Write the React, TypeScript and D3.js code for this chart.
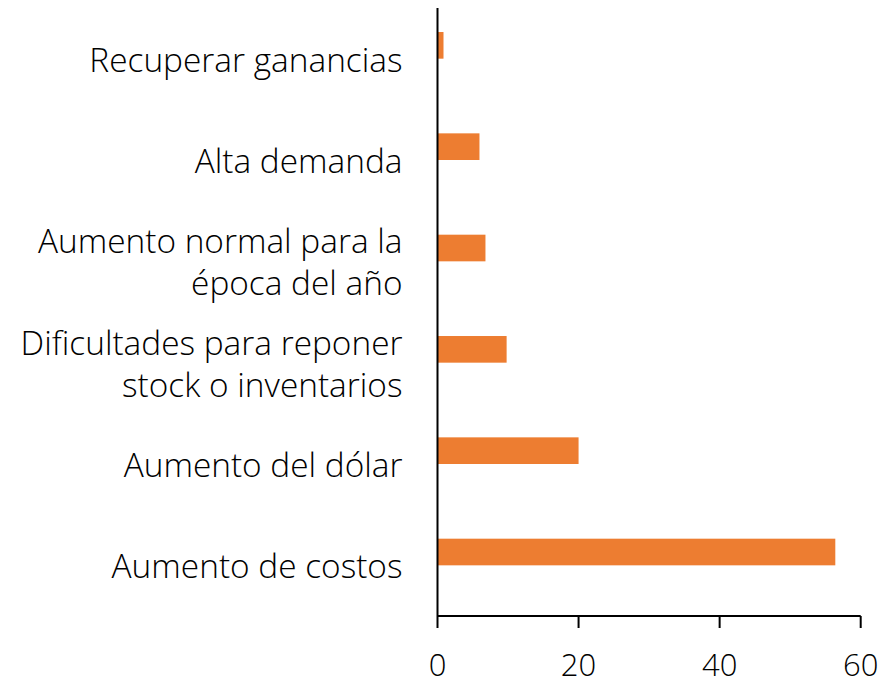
import React from "react";
import * as d3 from "d3";

const categories: string[][] = [
  ["Recuperar ganancias"],
  ["Alta demanda"],
  ["Aumento normal para la", "época del año"],
  ["Dificultades para reponer", "stock o inventarios"],
  ["Aumento del dólar"],
  ["Aumento de costos"],
];
const values = [0.85, 5.95, 6.8, 9.8, 20.0, 56.4];
const xTicks = [0, 20, 40, 60];

export default function App() {
  const W = 892, H = 680;
  const left = 437.5, right = 860.7, top = 8, bottom = 616;
  const x = d3.scaleLinear().domain([0, 60]).range([left, right]);
  const y = d3.scaleBand<number>().domain(d3.range(categories.length)).range([top, bottom]).padding(0);
  const barH = y.bandwidth() * 0.263;
  const font = "'Open Sans', sans-serif";
  const fs = 33.4;
  const lineH = 42;
  return (
    <svg width={W} height={H} style={{ position: "absolute", left: 0, top: 0 }}>
      <rect width={W} height={H} fill="#fff" />
      {values.map((v, i) => (
        <rect key={i} x={x(0)} y={y(i)! + y.bandwidth() / 2 - barH} width={x(v) - x(0)} height={barH} fill="#ED7D31" />
      ))}
      {categories.map((lines, i) => {
        const cy = y(i)! + y.bandwidth() / 2;
        const y0 = cy - ((lines.length - 1) * lineH) / 2;
        return (
          <text key={i} textAnchor="end" fontFamily={font} fontWeight={300} fontSize={fs} fill="#000" dominantBaseline="central">
            {lines.map((l, j) => (
              <tspan key={j} x={left - 35} y={y0 + j * lineH}>{l}</tspan>
            ))}
          </text>
        );
      })}
      <line x1={left} x2={left} y1={top} y2={bottom} stroke="#000" strokeWidth={2} />
      <line x1={left} x2={right} y1={bottom} y2={bottom} stroke="#000" strokeWidth={2} />
      {xTicks.map((t) => (
        <g key={t}>
          <line x1={x(t)} x2={x(t)} y1={bottom} y2={bottom + 12} stroke="#000" strokeWidth={2} />
          <text x={x(t)} y={664} textAnchor="middle" dominantBaseline="central" fontFamily={font} fontWeight={300} fontSize={31} fill="#000">{t}</text>
        </g>
      ))}
    </svg>
  );
}
